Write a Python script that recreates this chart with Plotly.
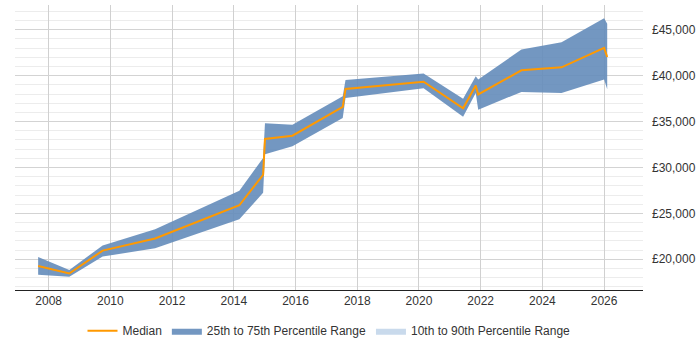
import plotly.graph_objects as go

years = [2007.66, 2008.67, 2009.75, 2011.45, 2014.18, 2014.95, 2015.01, 2015.9,
         2017.53, 2017.62, 2020.15, 2021.43, 2021.84, 2021.92, 2023.32, 2024.62,
         2026.0, 2026.1]
median = [19275, 18450, 20940, 22270, 25880, 29200, 33100, 33460,
          36600, 38550, 39340, 36440, 38920, 37950, 40580, 40910,
          43020, 42040]
p75 = [20250, 18840, 21500, 23280, 27470, 31040, 34830, 34650,
       37750, 39520, 40250, 37490, 39930, 39570, 42850, 43650,
       46250, 45650]
p25 = [18300, 18080, 20290, 21190, 24360, 27250, 31440, 32300,
       35400, 37580, 38630, 35520, 38120, 36300, 38230, 38120,
       39570, 38520]
x_ticks = [2008, 2010, 2012, 2014, 2016, 2018, 2020, 2022, 2024, 2026]
y_ticks = [20000, 25000, 30000, 35000, 40000, 45000]
y_labels = ["\u00a320,000", "\u00a325,000", "\u00a330,000", "\u00a335,000",
            "\u00a340,000", "\u00a345,000"]

fig = go.Figure()

fig.add_trace(go.Scatter(
    x=years + years[::-1], y=p75 + p25[::-1],
    fill="toself", fillcolor="rgba(100,140,186,0.9)",
    line=dict(width=0), mode="lines",
    name="25th to 75th Percentile Range", hoverinfo="skip", legendrank=2,
))
fig.add_trace(go.Scatter(
    x=[None], y=[None], fill="toself", fillcolor="#c9daec",
    line=dict(width=0), mode="lines",
    name="10th to 90th Percentile Range", legendrank=3,
))
fig.add_trace(go.Scatter(
    x=years, y=median, mode="lines",
    line=dict(color="#ff9900", width=2),
    name="Median", legendrank=1,
))

fig.update_layout(
    width=700, height=350,
    margin=dict(l=15, r=57, t=5, b=58),
    paper_bgcolor="white", plot_bgcolor="white",
    font=dict(family="Liberation Sans, Arial, sans-serif", size=12, color="#333"),
    showlegend=True,
    legend=dict(orientation="h", x=0.5, xanchor="center", y=-0.143, yanchor="middle",
                font=dict(size=12, color="#333"), itemwidth=30),
)
fig.update_xaxes(
    range=[2006.91, 2027.26], tickvals=x_ticks,
    showgrid=True, gridcolor="#d0d0d0", gridwidth=1,
    showline=True, linecolor="#222", linewidth=1,
    ticks="", zeroline=False,
)
fig.update_yaxes(
    range=[16650, 47700], side="right", tickvals=y_ticks, ticktext=y_labels,
    showgrid=True, gridcolor="#d3d3d3", gridwidth=1,
    minor=dict(dtick=1000, showgrid=True, gridcolor="#ececec", gridwidth=1),
    showline=False, ticks="", zeroline=False, ticklabelstandoff=8,
)

fig.write_html("out.html")
